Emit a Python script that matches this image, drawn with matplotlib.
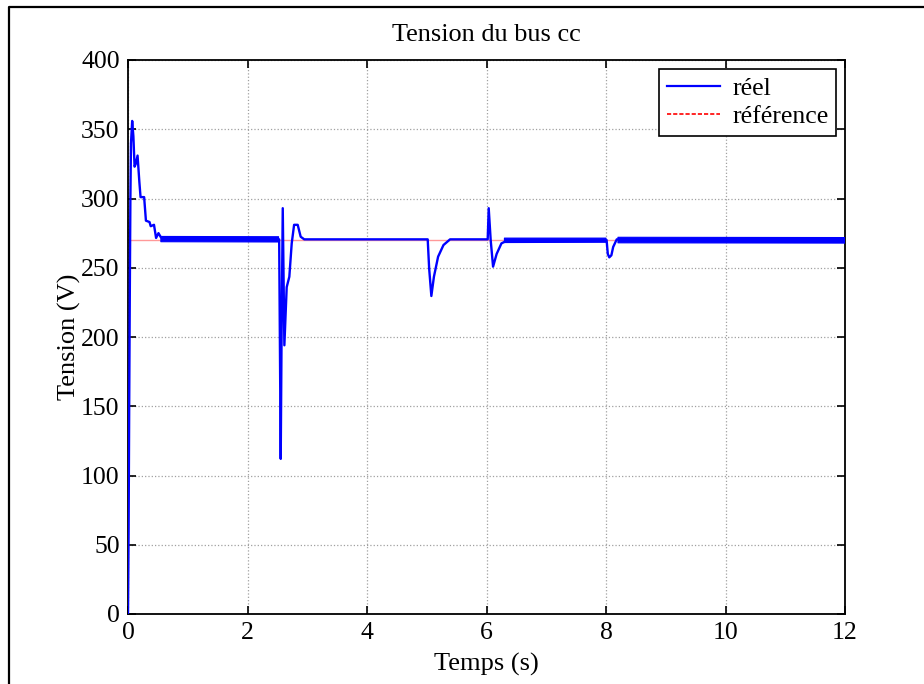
import numpy as np
import matplotlib
matplotlib.use('Agg')
import matplotlib.pyplot as plt
from matplotlib.lines import Line2D

plt.rcParams['font.family'] = ['Liberation Serif', 'DejaVu Serif']
plt.rcParams['font.size'] = 18.5

t_reel = [0.0, 0.01, 0.02, 0.03, 0.04, 0.05, 0.07, 0.09, 0.11, 0.13, 0.16, 0.19, 0.21, 0.27,
          0.30, 0.36, 0.38, 0.435, 0.47, 0.51, 0.55, 0.6, 2.53,
          2.556, 2.57, 2.59, 2.617, 2.656, 2.70, 2.74, 2.78, 2.84, 2.89, 2.95,
          5.016, 5.04, 5.077, 5.12, 5.19, 5.28, 5.39, 5.5,
          6.02, 6.037, 6.07, 6.11, 6.17, 6.25, 6.34, 6.45,
          8.01, 8.03, 8.055, 8.09, 8.12, 8.18, 8.3, 12.0]
v_reel = [0, 60, 150, 230, 300, 340, 356, 345, 323, 325, 331, 312, 301, 301,
          284, 283, 280, 281, 271.5, 275, 272, 271, 270.5,
          112, 200, 293, 194, 236, 243.5, 267.6, 281, 281, 272.4, 270.5,
          270.5, 249.6, 229.6, 243.5, 258, 266.4, 270.5, 270.5,
          270.5, 293, 270, 250.8, 260, 267.6, 269.5, 270,
          270, 260, 257.5, 259, 265, 270.5, 270, 270]

# noise envelope of the measured signal
band_t = [0.55, 2.52, np.nan, 6.3, 8.0, np.nan, 8.2, 12.0]
band_lo = [268.8, 268.6, np.nan, 268.2, 268.4, np.nan, 268.0, 267.8]
band_hi = [272.6, 272.4, np.nan, 271.4, 271.4, np.nan, 272.0, 271.8]

# reference
t_ref = [0.0, 12.0]
v_ref = [270, 270]

fig = plt.figure(figsize=(9.24, 6.84), dpi=100)
ax = fig.add_axes([128/924, 1-614/684, (845-128)/924, (614-60)/684])

ax.plot(t_ref, v_ref, color=(1.0, 0.6, 0.6), lw=1.0, zorder=2)
ax.fill_between(band_t, band_lo, band_hi, color='blue', lw=0.8, zorder=3)
ax.plot(t_reel, v_reel, color='blue', lw=1.7, zorder=4)

ax.set_xlim(0, 12)
ax.set_ylim(0, 400)
ax.set_xticks(np.arange(0, 13, 2))
ax.set_yticks(np.arange(0, 401, 50))
ax.grid(True, linestyle=':', color='#a0a0a0', lw=0.9)
ax.tick_params(direction='in', top=True, right=True, length=6, width=1.2, pad=6,
               labelsize=18.5)
for s in ax.spines.values():
    s.set_linewidth(1.3)

ax.set_title('Tension du bus cc', pad=14, fontsize=18.9)
ax.set_xlabel('Temps (s)', labelpad=6, fontsize=19)
ax.set_ylabel('Tension (V)', labelpad=0, fontsize=19)

handles = [Line2D([], [], color='blue', lw=1.6),
           Line2D([], [], color='red', lw=1.2, linestyle=(0, (2.5, 1.2)))]
leg = ax.legend(handles, ['réel', 'référence'], loc='upper right', fancybox=False,
                edgecolor='black', framealpha=1, handlelength=2.1, borderaxespad=0.35,
                borderpad=0.3, labelspacing=0.2, handletextpad=0.45, fontsize=18.5)
leg.get_frame().set_linewidth(1.2)

# outer frame
fig.add_artist(Line2D([9/924, 9/924, 1.0], [0.0, 1-7/684, 1-7/684],
                      transform=fig.transFigure, color='black', lw=1.6))

fig.savefig('out.png', dpi=100)
